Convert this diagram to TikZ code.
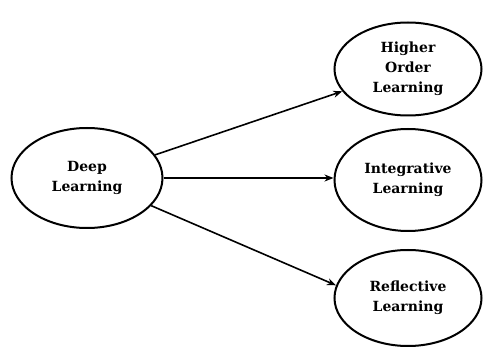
\documentclass[tikz,border=0pt]{standalone}
\usepackage{fontspec}
\setmainfont{DejaVu Serif}
\usetikzlibrary{shapes.geometric,arrows.meta}

\tikzstyle{every node}=[align=center, font={\fontsize{14}{20}\selectfont\bfseries}, inner sep=0pt]
\tikzstyle{bubble}=[draw=black, ellipse, line width=2pt, minimum width=147pt, minimum height=96pt]
\tikzstyle{root}=[bubble, minimum width=151pt, minimum height=100pt]
\tikzstyle{link}=[line width=1.6pt, -{Stealth[length=9pt,width=7pt]}]

\begin{document}
\begin{tikzpicture}[x=1pt, y=-1pt]
    \useasboundingbox (0,0) rectangle (483,350);
    \node [root] (deep) at (87,178) {Deep\\Learning};
    \node [bubble, minimum height=93pt] (higher) at (408,69) {Higher\\Order\\Learning};
    \node [bubble, minimum height=102pt] (integ) at (408,180) {Integrative\\Learning};
    \node [bubble] (reflect) at (408,298) {Reflective\\Learning};

    % arrows out of the root
    \draw [link] (deep) -- (higher);
    \draw [link] (deep.east) -- (integ.west |- deep.east);
    \draw [link] (deep) -- (reflect.170);
\end{tikzpicture}
\end{document}
